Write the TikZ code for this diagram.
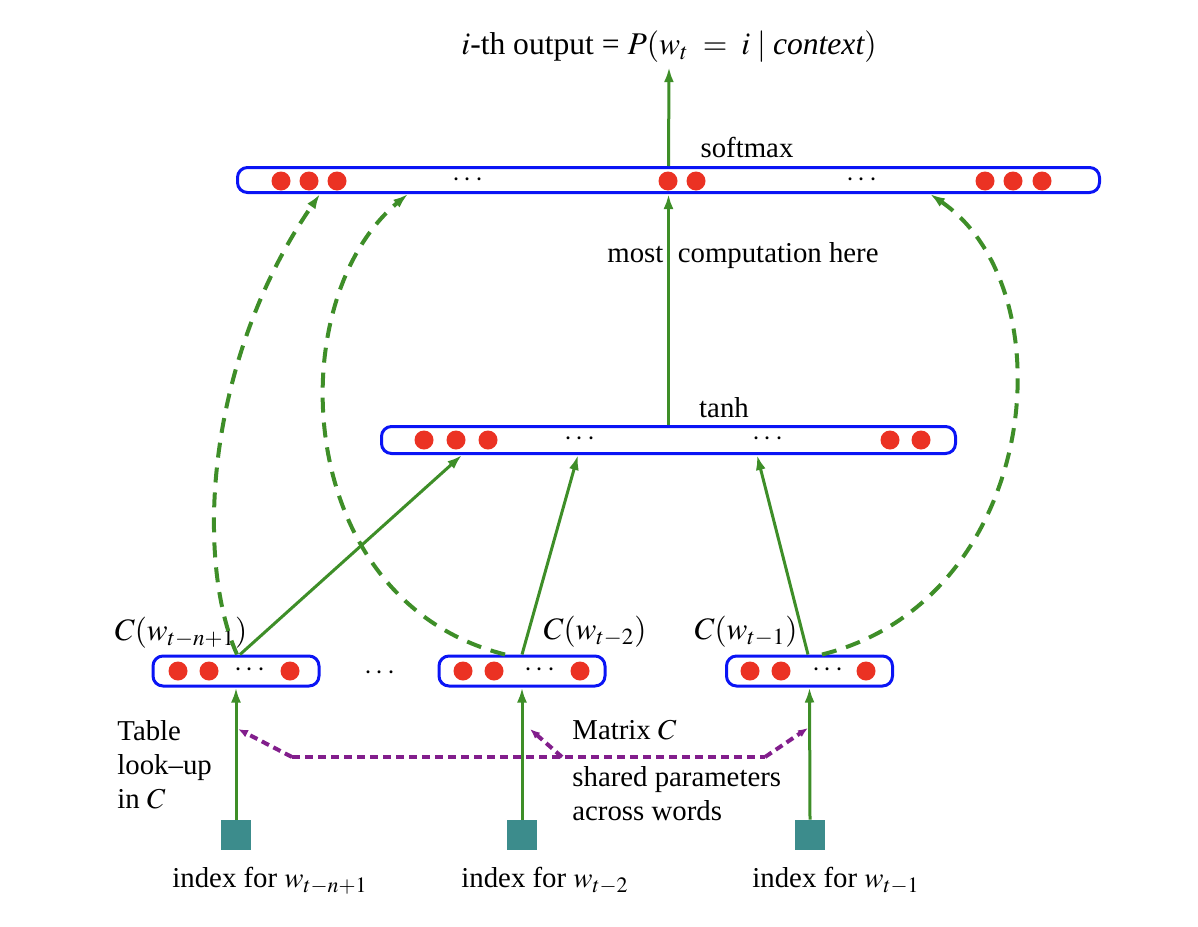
\documentclass[tikz,border=0pt]{standalone}
\usepackage{mathptmx}
\usepackage[no-math]{fontspec}
\setmainfont{Liberation Serif}
\usetikzlibrary{arrows.meta,calc}
\definecolor{gr}{RGB}{62,142,40}
\definecolor{bl}{RGB}{10,20,245}
\definecolor{rd}{RGB}{235,50,35}
\definecolor{tl}{RGB}{60,140,140}
\definecolor{pu}{RGB}{130,30,140}
\tikzset{
  layer/.style={draw=bl, line width=1.5pt, rounded corners=5pt, inner sep=0pt},
  neuron/.style={circle, fill=rd, minimum size=9.5pt, inner sep=0pt},
  gline/.style={draw=gr, line width=1.5pt, -{Latex[length=7.5pt,width=5pt]}},
  garc/.style={gline, line width=2pt, dash pattern=on 7.5pt off 5pt},
  pline/.style={draw=pu, line width=2pt, dash pattern=on 4pt off 2.5pt},
  parrow/.style={pline, -{Latex[length=5pt,width=4pt]}},
  sqbox/.style={fill=tl, minimum size=15pt, inner sep=0pt},
  dotsn/.style={inner sep=0pt},
  lbl/.style={inner sep=0pt},
  mlbl/.style={inner sep=0pt, font=\fontsize{15.6}{18}\selectfont},
}
\begin{document}
\begin{tikzpicture}[x=0.5pt,y=-0.5pt,font=\fontsize{14.4}{17}\selectfont]
\useasboundingbox (0,0) rectangle (1198,926);

% title
\node[inner sep=2pt, font=\fontsize{15.8}{18}\selectfont] (title) at (669,47) {$i$-th output = $P(w_t\;=\;i\mid \textit{context})$};

% softmax layer
\node[layer, minimum width=431pt, minimum height=12.5pt] (soft) at (668.5,180) {};
\foreach \x/\n in {281/s1,309/s2,337/s3,668/s4,696/s5,985/s6,1013/s7,1042/s8}
  \node[neuron] (\n) at (\x,181) {};
\node[dotsn] (sd1) at (468,180) {$\cdots$};
\node[dotsn] (sd2) at (862,180) {$\cdots$};
\node[lbl] (softlbl) at (747,147) {softmax};

% tanh layer
\node[layer, minimum width=287pt, minimum height=13.5pt] (tanh) at (668.5,440) {};
\foreach \x/\n in {424/t1,456/t2,488/t3,890/t4,921/t5}
  \node[neuron] (\n) at (\x,440) {};
\node[dotsn] (td1) at (580,439) {$\cdots$};
\node[dotsn] (td2) at (768,439) {$\cdots$};
\node[lbl] (tanhlbl) at (724,408) {tanh};
\node[lbl] (most) at (743,256) {most\ \ computation here};

% small layers
\node[layer, minimum width=83pt, minimum height=15pt] (b1) at (236,671) {};
\node[layer, minimum width=83pt, minimum height=15pt] (b2) at (522,671) {};
\node[layer, minimum width=83pt, minimum height=15pt] (b3) at (809.5,671) {};
\foreach \x/\n in {178/a1,209/a2,290/a3,463/a4,494/a5,580/a6,750/a7,781/a8,866/a9}
  \node[neuron] (\n) at (\x,671) {};
\node[dotsn] (bd1) at (250,670) {$\cdots$};
\node[dotsn] (bd2) at (540,670) {$\cdots$};
\node[dotsn] (bd3) at (828,670) {$\cdots$};
\node[dotsn] (mid) at (380,673) {$\cdots$};

\node[mlbl] (c1) at (181,633) {$C(w_{t-n+1})$};
\node[mlbl] (c2) at (595,632) {$C(w_{t-2})$};
\node[mlbl] (c3) at (746,632) {$C(w_{t-1})$};

% index squares
\node[sqbox] (q1) at (236,835) {};
\node[sqbox] (q2) at (522,835) {};
\node[sqbox] (q3) at (810,835) {};
\node[lbl] (i1) at (270,881) {index for $w_{t-n+1}$};
\node[lbl] (i2) at (545,881) {index for $w_{t-2}$};
\node[lbl] (i3) at (836,881) {index for $w_{t-1}$};

% text labels
\node[lbl, align=left, anchor=west] (tbl) at (117,765) {Table\\ look--up\\ in $C$};
\node[lbl, anchor=west] (mat) at (572,730) {Matrix $C$};
\node[lbl, align=left, anchor=west] (shr) at (572,794) {shared parameters\\across words};

% solid green arrows
\draw[gline] (soft.north) -- (title.south);
\draw[gline] (tanh.north) -- (soft.south);
\draw[gline] ([xshift=2pt]b1.north) -- ([xshift=-103.25pt]tanh.south);
\draw[gline] (b2.north) -- ([xshift=-45.25pt]tanh.south);
\draw[gline] ([xshift=-0.75pt]b3.north) -- ([xshift=44.25pt]tanh.south);
\draw[gline] (q1.north) -- (b1.south);
\draw[gline] (q2.north) -- (b2.south);
\draw[gline] (q3.north) -- (b3.south);

% dashed green arcs
\draw[garc] ([xshift=0.5pt]b1.north) .. controls (195,560) and (205,360) .. ([xshift=-174.25pt]soft.south);
\draw[garc] ([xshift=-8.5pt]b2.north) .. controls (290,600) and (280,300) .. ([xshift=-130.25pt]soft.south);
\draw[garc] ([xshift=6.25pt]b3.north) .. controls (1040,600) and (1070,290) .. ([xshift=130.75pt]soft.south);

% purple shared parameters
\coordinate (p1) at (292,757);
\coordinate (p2) at (765,757);
\coordinate (p3) at (562,757);
\coordinate (e1) at (238,729);
\coordinate (e2) at (530,729);
\coordinate (e3) at (808,728);
\draw[pline] (p1) -- (p2);
\draw[parrow] (p1) -- (e1);
\draw[parrow] (p3) -- (e2);
\draw[parrow] (p2) -- (e3);
\end{tikzpicture}
\end{document}
